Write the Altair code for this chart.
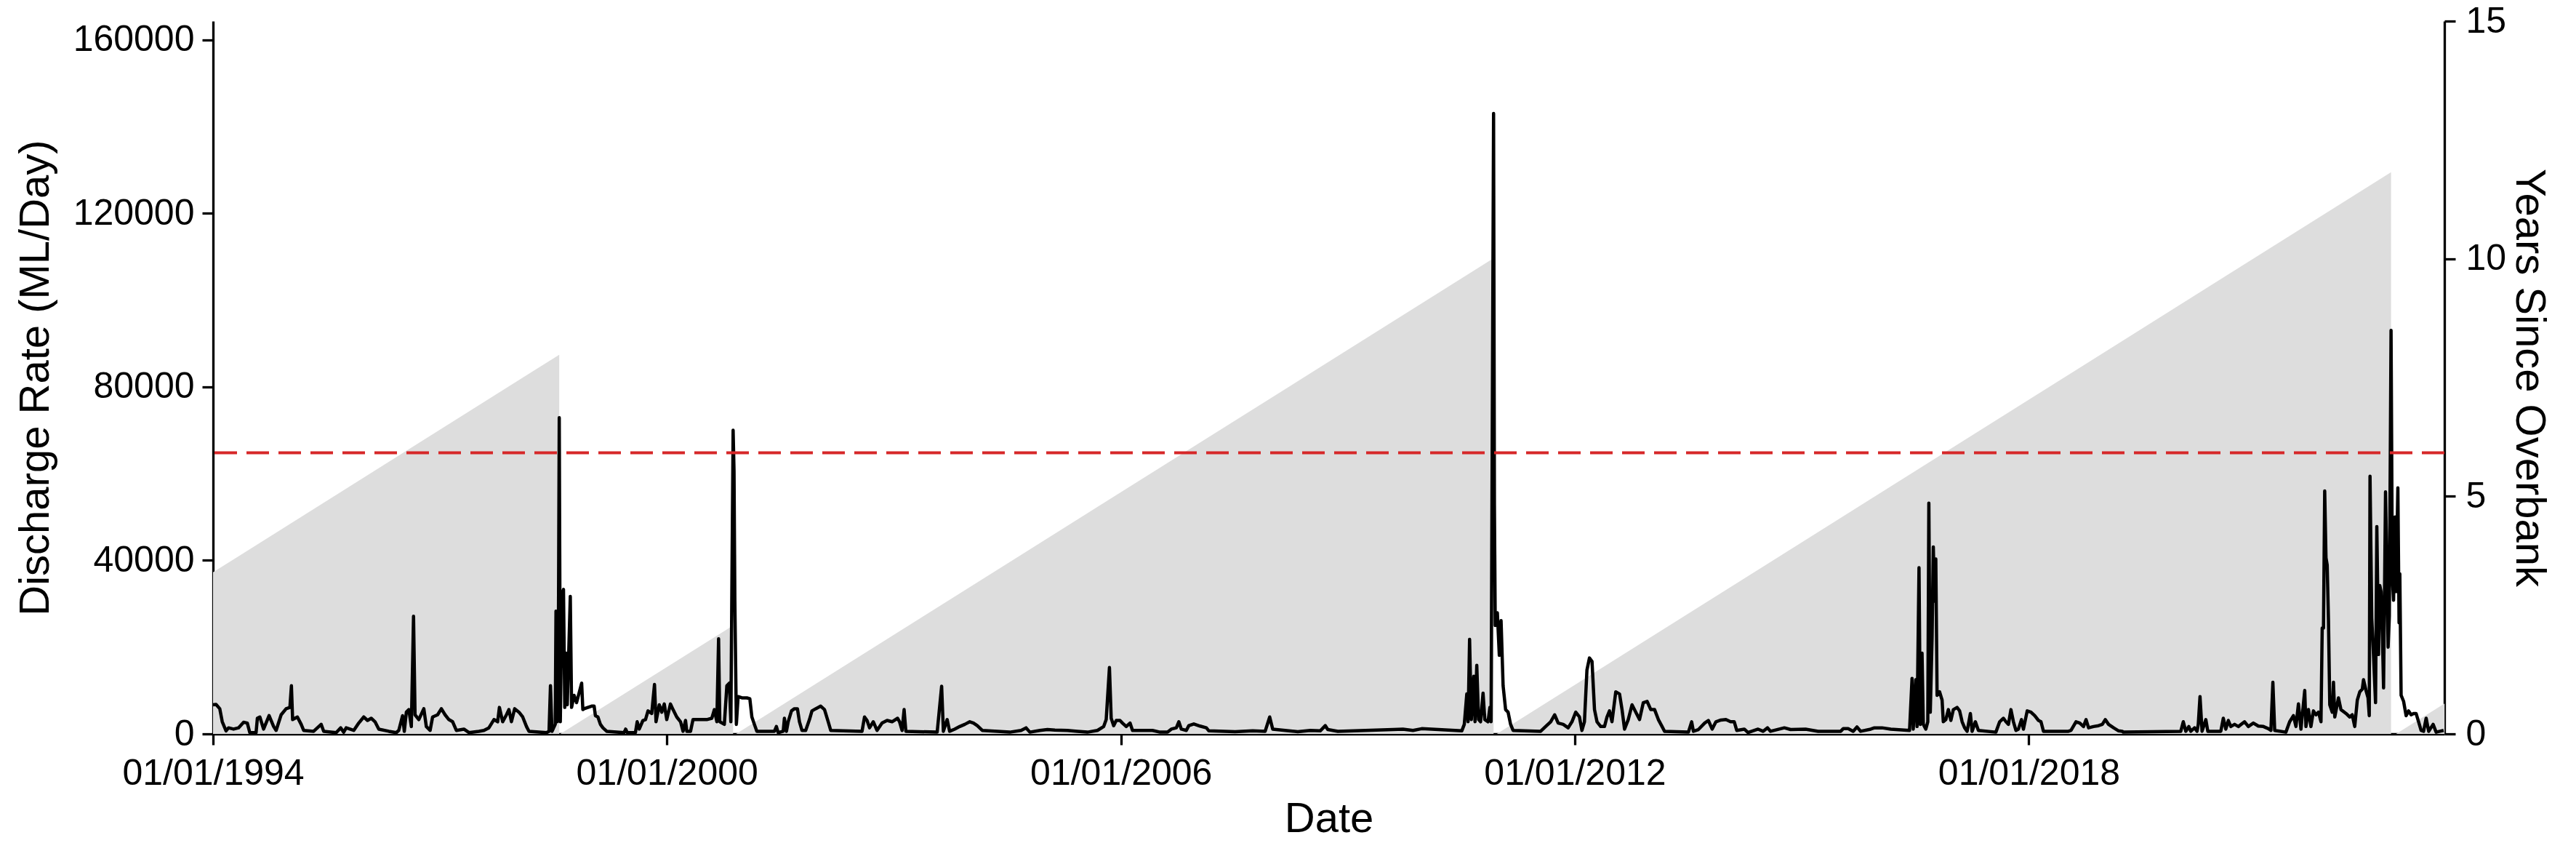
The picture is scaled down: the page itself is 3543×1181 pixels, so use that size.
import numpy as np
import pandas as pd
import altair as alt

# Daily discharge (ML/Day). Times are decimal years.
t_9498 = [1994.000, 1994.040, 1994.089, 1994.122, 1994.172, 1994.205, 1994.271, 1994.337, 1994.404, 1994.453,
          1994.486, 1994.569, 1994.586, 1994.619, 1994.668, 1994.741, 1994.801, 1994.834, 1994.900, 1994.966,
          1995.016, 1995.036, 1995.052, 1995.115, 1995.165, 1995.198, 1995.330, 1995.429, 1995.463, 1995.628,
          1995.688, 1995.727, 1995.760, 1995.860, 1995.926, 1995.992, 1996.042, 1996.091, 1996.141, 1996.191,
          1996.323, 1996.422, 1996.455, 1996.505, 1996.528, 1996.555, 1996.588, 1996.621, 1996.650, 1996.670,
          1996.720, 1996.786, 1996.819, 1996.869, 1996.902, 1996.968, 1997.018, 1997.067, 1997.117, 1997.167,
          1997.216, 1997.316, 1997.382, 1997.514, 1997.580, 1997.646, 1997.713, 1997.762, 1997.785, 1997.828,
          1997.878, 1997.911, 1997.944, 1997.987, 1998.044, 1998.093, 1998.143, 1998.176, 1998.408, 1998.441,
          1998.460, 1998.480, 1998.523, 1998.533, 1998.550, 1998.566, 1998.576, 1998.590, 1998.613, 1998.632,
          1998.649, 1998.666, 1998.682, 1998.722, 1998.739, 1998.772, 1998.805]
q_9498 = [6700, 6800, 5800, 2800, 700, 1400, 1100, 1400, 2700, 2500,
          300, 300, 3600, 3900, 1100, 4200, 1700, 800, 4400, 5800,
          6100, 11100, 3300, 3900, 2200, 800, 600, 2200, 600, 300,
          1400, 400, 1400, 800, 2500, 3900, 3100, 3600, 2800, 1100,
          600, 300, 800, 4200, 600, 5000, 5600, 1700, 27100, 4400,
          3300, 5800, 1700, 800, 3900, 4400, 5800, 4400, 3300, 2800,
          800, 1100, 300, 600, 800, 1400, 3300, 2800, 6100, 2800,
          4400, 5600, 2800, 5800, 5000, 3900, 1700, 600, 300, 600,
          11100, 600, 2200, 28300, 2800, 28300, 72900, 2800, 32200, 33300,
          6100, 18600, 6700, 31700, 6100, 8900, 7200]

t_9903 = [1998.872, 1998.888, 1998.905, 1998.954, 1999.004, 1999.037, 1999.054, 1999.087, 1999.120, 1999.153,
          1999.203, 1999.434, 1999.454, 1999.474, 1999.583, 1999.606, 1999.633, 1999.682, 1999.716, 1999.749,
          1999.798, 1999.835, 1999.855, 1999.898, 1999.931, 1999.964, 1999.997, 2000.046, 2000.080, 2000.129,
          2000.179, 2000.212, 2000.245, 2000.262, 2000.311, 2000.344, 2000.427, 2000.526, 2000.592, 2000.626,
          2000.659, 2000.682, 2000.698, 2000.758, 2000.791, 2000.824, 2000.844, 2000.874, 2000.886, 2000.897,
          2000.917, 2000.940, 2000.990, 2001.056, 2001.095, 2001.122, 2001.155, 2001.188, 2001.420, 2001.446,
          2001.469, 2001.536, 2001.552, 2001.579, 2001.602, 2001.645, 2001.684, 2001.724, 2001.751, 2001.784,
          2001.833, 2001.883, 2001.916, 2001.966, 2002.032, 2002.082, 2002.131, 2002.164, 2002.578, 2002.611,
          2002.644, 2002.677, 2002.727, 2002.776, 2002.843, 2002.909, 2002.975, 2003.048, 2003.074, 2003.107,
          2003.134, 2003.157, 2003.571, 2003.630, 2003.653, 2003.703, 2003.736, 2003.802]
q_9903 = [11700, 5600, 5800, 6100, 6400, 6400, 4200, 3900, 2200, 1400,
          600, 300, 1100, 300, 300, 2800, 1100, 3100, 3300, 5300,
          4700, 11400, 2800, 6700, 5000, 6900, 3300, 6900, 5600, 3900,
          2800, 600, 3100, 600, 600, 3300, 3300, 3300, 3600, 5600,
          2800, 21900, 2800, 2200, 11100, 11700, 2800, 70000, 60500, 30600,
          2200, 8600, 8300, 8300, 8100, 3900, 2200, 600, 600, 1700,
          300, 600, 3600, 600, 2800, 5300, 5800, 5800, 2800, 800,
          800, 3300, 5300, 5800, 6400, 5600, 2800, 800, 600, 3900,
          3100, 1400, 2800, 800, 2500, 3100, 2800, 3600, 2800, 800,
          5600, 600, 400, 11000, 600, 3300, 600, 1100]

t_0408 = [2003.869, 2003.936, 2004.002, 2004.051, 2004.101, 2004.167, 2004.531, 2004.680, 2004.746, 2004.796,
          2004.928, 2005.028, 2005.127, 2005.292, 2005.425, 2005.557, 2005.689, 2005.772, 2005.805, 2005.848,
          2005.871, 2005.904, 2005.938, 2005.987, 2006.020, 2006.070, 2006.120, 2006.153, 2006.252, 2006.417,
          2006.517, 2006.616, 2006.666, 2006.732, 2006.765, 2006.798, 2006.864, 2006.897, 2006.963, 2007.046,
          2007.129, 2007.162, 2007.509, 2007.741, 2007.906, 2007.966, 2008.006, 2008.171, 2008.337, 2008.502,
          2008.634, 2008.701, 2008.734]
q_0408 = [1700, 2200, 2800, 2500, 1900, 800, 400, 800, 1400, 400,
          800, 1000, 900, 800, 600, 400, 800, 1700, 3300, 15300,
          3600, 1900, 3100, 3100, 2500, 1700, 2500, 800, 800, 800,
          400, 400, 1100, 1400, 2800, 1100, 800, 1900, 2300, 1800,
          1400, 700, 500, 700, 600, 3900, 1100, 800, 500, 800,
          700, 1900, 1000]

t_0913 = [2008.867, 2009.595, 2009.727, 2009.860, 2009.975, 2010.108, 2010.505, 2010.538, 2010.571, 2010.588,
          2010.608, 2010.631, 2010.664, 2010.680, 2010.703, 2010.727, 2010.753, 2010.786, 2010.809, 2010.852,
          2010.876, 2010.892, 2010.925, 2010.936, 2010.947, 2010.975, 2011.001, 2011.024, 2011.051, 2011.084,
          2011.117, 2011.150, 2011.183, 2011.547, 2011.613, 2011.680, 2011.732, 2011.779, 2011.845, 2011.911,
          2011.961, 2012.011, 2012.060, 2012.093, 2012.126, 2012.159, 2012.192, 2012.226, 2012.259, 2012.292,
          2012.341, 2012.391, 2012.424, 2012.457, 2012.490, 2012.540, 2012.590, 2012.623, 2012.656, 2012.705,
          2012.755, 2012.805, 2012.854, 2012.904, 2012.954, 2013.003, 2013.053, 2013.103, 2013.152, 2013.185,
          2013.500, 2013.543, 2013.566, 2013.632, 2013.715, 2013.764, 2013.814, 2013.864, 2013.930, 2013.996]
q_0913 = [600, 1000, 1100, 800, 1200, 1100, 700, 2200, 9200, 2800,
          21800, 3300, 13300, 2800, 15800, 3300, 2800, 9400, 3300, 2800,
          6100, 2800, 143000, 52800, 25000, 27900, 18100, 26100, 11100, 5600,
          5000, 2200, 800, 600, 1700, 2800, 4400, 2500, 2200, 1400,
          2800, 5000, 3900, 800, 2800, 14700, 17500, 16700, 5600, 2800,
          1700, 1700, 3900, 5300, 2800, 9700, 9200, 5600, 1100, 3300,
          6700, 5000, 3300, 7200, 7500, 5600, 5600, 3300, 1700, 600,
          400, 2800, 600, 1000, 2500, 3100, 1100, 2800, 3200, 3300]

t_1419 = [2014.057, 2014.106, 2014.139, 2014.239, 2014.288, 2014.421, 2014.487, 2014.546, 2014.586, 2014.768,
          2014.851, 2015.049, 2015.215, 2015.513, 2015.546, 2015.612, 2015.678, 2015.728, 2015.777, 2015.910,
          2015.959, 2016.059, 2016.175, 2016.423, 2016.456, 2016.472, 2016.505, 2016.522, 2016.548, 2016.565,
          2016.588, 2016.605, 2016.638, 2016.664, 2016.678, 2016.697, 2016.721, 2016.737, 2016.754, 2016.770,
          2016.787, 2016.820, 2016.853, 2016.869, 2016.903, 2016.936, 2016.969, 2017.002, 2017.051, 2017.085,
          2017.118, 2017.151, 2017.184, 2017.227, 2017.250, 2017.293, 2017.333, 2017.564, 2017.614, 2017.664,
          2017.697, 2017.730, 2017.763, 2017.796, 2017.829, 2017.862, 2017.902, 2017.928, 2017.978, 2018.028,
          2018.077, 2018.127, 2018.160, 2018.193, 2018.524, 2018.557, 2018.623, 2018.673, 2018.722, 2018.756,
          2018.789, 2018.855, 2018.921, 2018.971, 2019.010, 2019.053, 2019.120, 2019.186, 2019.235]
q_1419 = [2800, 2800, 800, 1100, 300, 1100, 600, 1400, 600, 1400,
          1000, 1100, 600, 600, 1200, 1200, 600, 1600, 600, 1100,
          1400, 1400, 1100, 800, 12800, 1100, 12500, 1700, 38300, 2200,
          18600, 2200, 1100, 2800, 53200, 5000, 22200, 43100, 30600, 40300,
          8900, 9700, 7800, 2800, 3300, 5600, 3100, 5600, 6100, 5300,
          2800, 1400, 600, 4700, 600, 2800, 800, 400, 2800, 3600,
          2800, 2200, 5600, 2800, 800, 1100, 3300, 1100, 5300, 5000,
          4200, 3100, 2800, 600, 600, 800, 2800, 2500, 1700, 3300,
          1400, 1700, 1900, 2200, 3300, 2200, 1400, 700, 600]

t_1923 = [2019.247, 2020.008, 2020.041, 2020.074, 2020.114, 2020.140, 2020.190, 2020.223, 2020.239, 2020.262,
          2020.289, 2020.339, 2020.365, 2020.537, 2020.570, 2020.603, 2020.636, 2020.669, 2020.719, 2020.769,
          2020.851, 2020.901, 2020.967, 2021.033, 2021.100, 2021.166, 2021.199, 2021.225, 2021.249, 2021.397,
          2021.447, 2021.497, 2021.530, 2021.563, 2021.596, 2021.646, 2021.662, 2021.695, 2021.728, 2021.761,
          2021.795, 2021.828, 2021.861, 2021.877, 2021.894, 2021.910, 2021.927, 2021.943, 2021.960, 2021.977,
          2022.010, 2022.026, 2022.043, 2022.059, 2022.092, 2022.125, 2022.192, 2022.241, 2022.274, 2022.307,
          2022.341, 2022.374, 2022.407, 2022.423, 2022.456, 2022.483, 2022.499, 2022.509, 2022.532, 2022.556,
          2022.582, 2022.599, 2022.622, 2022.638, 2022.655, 2022.671, 2022.688, 2022.714, 2022.731, 2022.748,
          2022.764, 2022.787, 2022.804, 2022.820, 2022.840, 2022.853, 2022.877, 2022.893, 2022.903, 2022.920,
          2022.953, 2022.986, 2023.019, 2023.052, 2023.085, 2023.118, 2023.151, 2023.184, 2023.217, 2023.251,
          2023.284, 2023.343, 2023.383, 2023.433, 2023.482]
q_1923 = [400, 600, 2800, 600, 1700, 600, 1400, 600, 2200, 8600,
          600, 3300, 600, 600, 3600, 1100, 3100, 1700, 2200, 1700,
          2800, 1700, 2500, 1800, 1700, 1200, 800, 11900, 800, 400,
          2800, 4200, 1700, 6900, 1100, 10000, 1700, 5600, 1700, 5300,
          4400, 5000, 2800, 24400, 24400, 56000, 40600, 38900, 26100, 6700,
          5000, 11900, 3900, 5300, 8300, 5600, 4700, 3900, 4400, 1700,
          7800, 9700, 10300, 12500, 10000, 8300, 4200, 59400, 26700, 17800,
          7200, 47800, 18300, 34200, 32800, 24400, 10600, 55800, 38900, 20000,
          27200, 93000, 36100, 30800, 50000, 32800, 56700, 25600, 36900, 8900,
          7500, 4200, 5300, 4400, 4700, 4700, 2800, 800, 600, 3600,
          600, 2200, 400, 600, 800]

# Years since last overbank flow (sawtooth corners)
yso_t = [1994.000, 1998.576, 1998.5762, 1998.590, 2000.874, 2000.8742, 2000.913,
         2010.925, 2010.9252, 2010.968, 2022.787, 2022.7872, 2022.853, 2023.494]
yso_v = [3.40, 7.98, 0.0, 0.0, 2.28, 0.0, 0.0,
         10.01, 0.0, 0.0, 11.82, 0.0, 0.0, 0.64]

overbank_threshold = 64800
tick_years = [1994, 2000, 2006, 2012, 2018]


def to_dates(years):
    return pd.Timestamp("1994-01-01") + pd.to_timedelta((np.array(years) - 1994.0) * 365.25, unit="D")


t_all = t_9498 + t_9903 + t_0408 + t_0913 + t_1419 + t_1923
q_all = q_9498 + q_9903 + q_0408 + q_0913 + q_1419 + q_1923
flow = pd.DataFrame({"date": to_dates(t_all), "discharge": q_all})
yso = pd.DataFrame({"date": to_dates(yso_t), "years": yso_v})
thr = pd.DataFrame({"threshold": [overbank_threshold]})

font = "Liberation Sans"

x_enc = alt.X(
    "date:T", title="Date",
    scale=alt.Scale(domain=[alt.DateTime(year=1994, month=1, date=1),
                            alt.DateTime(year=2023, month=6, date=30)]),
    axis=alt.Axis(values=[alt.DateTime(year=y, month=1, date=1) for y in tick_years],
                  format="%d/%m/%Y", labelFlush=False, labelLimit=0, labelPadding=14,
                  titlePadding=9, labelAngle=0),
)

area = alt.Chart(yso).mark_area(color="#dddddd", opacity=1).encode(
    x=x_enc,
    y=alt.Y("years:Q", title="Years Since Overbank",
            scale=alt.Scale(domain=[0, 15], nice=False),
            axis=alt.Axis(orient="right", values=[0, 5, 10, 15], labelPadding=14, titlePadding=2)),
)

line = alt.Chart(flow).mark_line(color="black", strokeWidth=4.5, strokeJoin="round").encode(
    x=x_enc,
    y=alt.Y("discharge:Q", title="Discharge Rate (ML/Day)",
            scale=alt.Scale(domain=[0, 164300], nice=False),
            axis=alt.Axis(orient="left", values=[0, 40000, 80000, 120000, 160000], format="d",
                          labelPadding=11, titlePadding=22)),
)

rule = alt.Chart(thr).mark_rule(color="#d62728", strokeWidth=4, strokeDash=[31, 13]).encode(
    y=alt.Y("threshold:Q", title="Discharge Rate (ML/Day)"),
)

chart = alt.layer(area, alt.layer(line, rule)).resolve_scale(y="independent").properties(
    width=3069, height=980,
    padding={"left": 285, "top": 21, "right": 165, "bottom": 150},
    autosize=alt.AutoSizeParams(type="none"),
).configure_view(stroke=None).configure_axis(
    domainColor="black", domainWidth=3.3, tickColor="black", tickWidth=3.3, tickSize=15,
    labelFont=font, labelFontSize=50, labelColor="black",
    titleFont=font, titleFontSize=58, titleFontWeight="normal", titleColor="black",
    grid=False,
)

chart.save("out.html", embed_options={"renderer": "svg", "actions": False})
